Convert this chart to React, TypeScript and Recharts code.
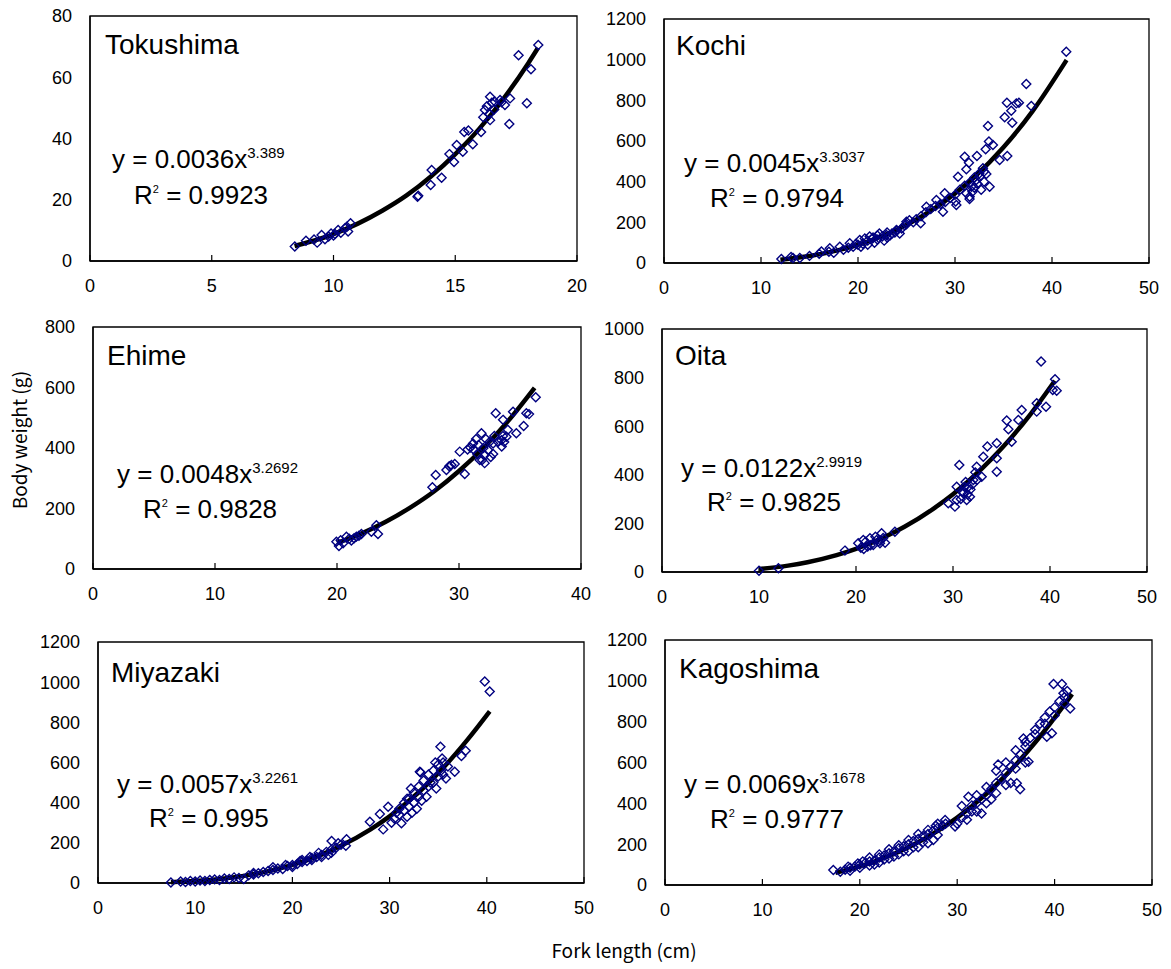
import React from 'react';
import { ComposedChart, Scatter, Line, XAxis, YAxis, ReferenceArea } from 'recharts';

// fork length (cm) / body weight (g) samples
const tokushimaPoints = [
  [8.41, 4.7], [8.87, 6.6], [9.33, 6.0], [9.51, 8.5], [9.65, 7.1], [9.2, 7.0], [9.8, 8.0], [9.9, 9.0],
  [10.0, 8.3], [10.06, 8.8], [10.19, 10.1], [10.3, 9.2], [10.47, 10.7], [10.6, 9.6], [10.7, 12.3], [10.55, 11.2],
  [13.45, 21.0], [13.48, 21.3], [13.99, 24.8], [14.03, 29.7], [14.44, 27.2], [14.76, 34.9], [14.95, 32.3],
  [15.06, 37.9], [15.31, 35.7], [15.37, 42.1], [15.54, 42.6], [15.72, 38.1], [16.06, 42.1], [16.15, 46.9],
  [16.22, 49.3], [16.3, 50.5], [16.4, 48.0], [16.43, 53.6], [16.43, 46.0], [16.5, 51.7], [16.6, 49.5],
  [16.63, 52.0], [16.84, 52.6], [16.9, 51.8], [17.04, 50.9], [17.25, 53.1], [17.22, 44.7], [17.6, 67.2],
  [17.94, 51.5], [18.11, 62.6], [18.41, 70.5],
];
const tokushimaTrend = [
  [8.4, 4.9], [9, 6.2], [10, 8.8], [11, 12.2], [12, 16.4], [13, 21.4], [14, 27.6], [15, 34.9], [16, 43.3],
  [17, 53.2], [18, 64.6], [18.4, 69.6],
];

const kochiPoints = [
  [12.1, 20], [13.1, 30], [13.3, 25], [14, 25], [15, 35], [16, 45], [16.23, 56], [17, 55], [17.09, 72],
  [17.5, 50], [18.12, 80], [18.5, 65], [19, 75], [19.15, 97], [19.5, 80], [19.8, 95], [20, 90], [20.18, 113],
  [20.3, 80], [20.5, 95], [20.7, 120], [21, 110], [21, 90], [21.2, 130], [21.5, 120], [21.55, 126], [21.7, 100],
  [22, 115], [22, 135], [22.2, 145], [22.5, 130], [22.7, 110], [22.93, 138], [23, 150], [23, 125], [23.3, 135],
  [23.5, 145], [23.8, 150], [23.96, 162], [24, 160], [24.3, 145], [24.5, 170], [24.8, 185], [24.99, 203],
  [25, 190], [25.3, 210], [25.7, 200], [26, 215], [26.46, 195], [26.5, 230], [27, 250], [27.05, 277],
  [27.5, 265], [28, 280], [28.08, 310], [28.5, 290], [28.76, 252], [28.94, 343], [29, 300], [29.5, 320],
  [30, 335], [30.07, 302], [30.14, 285], [30.31, 424], [30.5, 360], [31, 380], [31, 523], [31.17, 461],
  [31.17, 343], [31.44, 493], [31.5, 395], [31.5, 315], [31.51, 326], [31.69, 375], [31.8, 350], [32, 420],
  [32, 370], [32.2, 408], [32.26, 526], [32.3, 390], [32.5, 440], [32.54, 424], [32.7, 360], [32.88, 466],
  [33, 450], [33, 400], [33.16, 559], [33.23, 438], [33.4, 674], [33.5, 597], [33.57, 375], [33.91, 580],
  [34.6, 507], [35.12, 717], [35.35, 788], [35.39, 526], [35.8, 749], [35.9, 690], [36.32, 785], [36.59, 788],
  [37.35, 880], [37.87, 772], [41.47, 1039],
];
const kochiTrend = [
  [12, 16.5], [15, 34.6], [18, 63], [20, 89.5], [22, 123], [25, 187], [28, 272], [30, 342], [32, 423],
  [35, 569], [38, 747], [41.5, 998],
];

const ehimePoints = [
  [19.95, 90], [20.16, 76], [20.3, 95], [20.5, 85], [20.77, 107], [21, 100], [21.18, 94], [21.4, 102],
  [21.59, 107], [21.8, 110], [22, 116], [22.82, 123], [23.23, 145], [23.36, 116], [27.82, 270], [28.09, 311],
  [28.97, 327], [29.2, 340], [29.38, 344], [29.65, 347], [30.06, 388], [30.47, 314], [30.7, 395], [30.93, 402],
  [31.15, 415], [31.2, 395], [31.4, 430], [31.5, 380], [31.6, 410], [31.7, 360], [31.84, 449], [31.9, 360],
  [32, 400], [32.1, 350], [32.11, 377], [32.2, 430], [32.38, 393], [32.5, 420], [32.6, 370], [32.79, 415],
  [32.8, 380], [32.9, 440], [33.01, 515], [33.2, 420], [33.48, 426], [33.5, 405], [33.6, 440], [33.61, 493],
  [33.7, 420], [33.89, 437], [34, 460], [34.43, 520], [34.7, 449], [35.3, 473], [35.52, 515], [35.74, 512],
  [36.29, 568],
];
const ehimeTrend = [
  [20, 86], [22, 117], [24, 156], [26, 203], [28, 258], [30, 324], [32, 400], [34, 488], [36.2, 599],
];

const oitaPoints = [
  [10, 5], [12, 15], [18.86, 88], [20.23, 118], [20.5, 100], [20.75, 132], [20.8, 95], [21, 125],
  [21.2, 105], [21.44, 139], [21.5, 110], [21.78, 111], [22, 145], [22.13, 132], [22.3, 125], [22.47, 118],
  [22.5, 130], [22.64, 159], [22.8, 140], [23, 120], [24.01, 166], [29.51, 283], [30.2, 269], [30.38, 351],
  [30.38, 296], [30.65, 440], [30.8, 300], [31, 330], [31.06, 324], [31.2, 350], [31.3, 370], [31.41, 296],
  [31.5, 320], [31.58, 351], [31.75, 310], [31.8, 340], [32, 360], [32.09, 379], [32.3, 410], [32.44, 433],
  [32.5, 380], [32.96, 392], [33.12, 474], [33.54, 516], [34.51, 530], [34.51, 468], [34.51, 413],
  [35.54, 623], [35.71, 587], [36.05, 536], [36.74, 626], [37.08, 667], [38.63, 694], [38.63, 660],
  [39.08, 866], [39.59, 680], [40.28, 749], [40.52, 793], [40.69, 746],
];
const oitaTrend = [
  [10, 12], [13, 26.3], [15, 40.3], [18, 69.6], [20, 95.3], [23, 145], [25, 186], [28, 261], [30, 320],
  [33, 426], [35, 508], [38, 650], [40.5, 787],
];

const miyazakiPoints = [
  [7.5, 2], [8.5, 8], [9, 5], [9.5, 10], [10, 8], [10.5, 12], [11, 10], [11.5, 15], [12, 18], [12.5, 15],
  [13, 22], [13.5, 20], [14, 28], [14.5, 25], [15, 20], [15.5, 38], [16, 42], [16, 50], [16.5, 48], [17, 55],
  [17.5, 60], [18, 65], [18, 78], [18.5, 72], [19, 70], [19.3, 90], [19.5, 85], [20, 90], [20, 80], [20.5, 95],
  [20.8, 110], [21, 105], [21, 115], [21.5, 110], [21.8, 130], [22, 125], [22, 115], [22.5, 130], [22.7, 150],
  [23, 140], [23, 130], [23.5, 155], [23.7, 140], [24, 165], [24, 150], [24.03, 209], [24.5, 175], [24.71, 198],
  [25, 190], [25.5, 185], [25.57, 218], [27.97, 305], [29, 344], [29.34, 267], [29.85, 380], [30.2, 300],
  [30.5, 320], [30.7, 350], [31, 340], [31, 370], [31.22, 297], [31.5, 360], [31.5, 400], [31.8, 330],
  [31.8, 420], [32, 380], [32, 420], [32.2, 470], [32.3, 350], [32.5, 400], [32.5, 450], [32.8, 370], [33, 430],
  [33, 480], [33.11, 554], [33.2, 550], [33.3, 410], [33.5, 460], [33.5, 510], [33.8, 430], [34, 480],
  [34, 540], [34.2, 500], [34.5, 500], [34.5, 560], [34.7, 600], [34.8, 470], [35, 530], [35, 590],
  [35.23, 679], [35.3, 560], [35.4, 620], [35.5, 600], [35.5, 540], [35.8, 520], [36, 580], [36.7, 554],
  [37.39, 632], [37.83, 659], [39.79, 1003], [40.3, 953],
];
const miyazakiTrend = [
  [7.5, 3.8], [10, 9.6], [13, 22.4], [15, 35.5], [18, 63.9], [20, 89.8], [23, 141], [25, 185], [28, 266],
  [30, 332], [33, 452], [35, 547], [38, 713], [40.3, 855],
];

const kagoshimaPoints = [
  [17.28, 73], [18, 65], [18.5, 75], [18.8, 90], [19, 85], [19, 70], [19.5, 90], [19.8, 105], [20, 100],
  [20, 85], [20.3, 115], [20.5, 105], [21, 115], [21, 95], [21, 135], [21.5, 120], [21.5, 100], [22, 135],
  [22, 110], [22, 150], [22.5, 145], [22.5, 125], [23, 155], [23, 130], [23, 175], [23.5, 165], [23.5, 140],
  [24, 180], [24, 150], [24, 195], [24.5, 190], [24.5, 165], [25, 200], [25, 165], [25, 220], [25.5, 215],
  [25.5, 185], [26, 225], [26, 185], [26, 250], [26.5, 240], [26.5, 210], [27, 250], [27, 205], [27, 270],
  [27.5, 265], [27.55, 220], [27.8, 290], [28, 280], [28, 245], [28, 300], [28.5, 290], [28.76, 318],
  [28.8, 300], [29.78, 286], [30, 300], [30.47, 387], [30.5, 330], [31, 350], [31, 320], [31.15, 432],
  [31.5, 360], [31.5, 390], [32, 400], [32, 360], [32, 440], [32.5, 420], [32.5, 350], [33, 440], [33, 400],
  [33, 480], [33.5, 470], [33.5, 420], [34, 500], [34, 450], [34, 560], [34.2, 590], [34.5, 520], [35, 550],
  [35, 490], [35, 600], [35.5, 580], [35.5, 500], [36, 610], [36, 570], [36, 660], [36.12, 498], [36.46, 469],
  [36.5, 640], [36.8, 718], [37, 680], [37, 700], [37, 600], [37.32, 604], [37.5, 720], [38, 760], [38, 740],
  [38.5, 790], [39, 820], [39, 790], [39.2, 726], [39.5, 850], [39.72, 743], [39.89, 984], [40, 870],
  [40, 830], [40.5, 900], [40.75, 984], [40.91, 939], [41, 920], [41, 890], [41.3, 950], [41.6, 865],
];
const kagoshimaTrend = [
  [17.5, 60], [20, 91], [23, 142], [25, 185], [28, 265], [30, 330], [33, 446], [35, 538], [38, 698],
  [41.8, 935],
];

const ticks0to20 = [0, 5, 10, 15, 20];
const ticks0to40 = [0, 10, 20, 30, 40];
const ticks0to50 = [0, 10, 20, 30, 40, 50];
const weightTicks80 = [0, 20, 40, 60, 80];
const weightTicks800 = [0, 200, 400, 600, 800];
const weightTicks1000 = [0, 200, 400, 600, 800, 1000];
const weightTicks1200 = [0, 200, 400, 600, 800, 1000, 1200];

const toXY = (pairs: number[][]) => pairs.map(([x, y]) => ({ x, y }));

// plot-area boxes on the page, plus where the labels go
const panels = [
  {
    name: 'Tokushima', points: tokushimaPoints, trend: tokushimaTrend, xTicks: ticks0to20, yTicks: weightTicks80,
    coef: '0.0036', exp: '3.389', r2: '0.9923',
    box: { left: 90, top: 16, right: 577, bottom: 261 },
    title: [105, 54], eq: [112, 168], rsq: [134, 204],
  },
  {
    name: 'Kochi', points: kochiPoints, trend: kochiTrend, xTicks: ticks0to50, yTicks: weightTicks1200,
    coef: '0.0045', exp: '3.3037', r2: '0.9794',
    box: { left: 664, top: 19, right: 1149, bottom: 263 },
    title: [676, 55], eq: [684, 172], rsq: [710, 207],
  },
  {
    name: 'Ehime', points: ehimePoints, trend: ehimeTrend, xTicks: ticks0to40, yTicks: weightTicks800,
    coef: '0.0048', exp: '3.2692', r2: '0.9828',
    box: { left: 93, top: 327, right: 581, bottom: 569 },
    title: [107, 365], eq: [117, 483], rsq: [143, 518],
  },
  {
    name: 'Oita', points: oitaPoints, trend: oitaTrend, xTicks: ticks0to50, yTicks: weightTicks1000,
    coef: '0.0122', exp: '2.9919', r2: '0.9825',
    box: { left: 662, top: 329, right: 1147, bottom: 572 },
    title: [675, 365], eq: [681, 477], rsq: [707, 511],
  },
  {
    name: 'Miyazaki', points: miyazakiPoints, trend: miyazakiTrend, xTicks: ticks0to50, yTicks: weightTicks1200,
    coef: '0.0057', exp: '3.2261', r2: '0.995',
    box: { left: 98, top: 642, right: 584, bottom: 883 },
    title: [111, 682], eq: [117, 793], rsq: [149, 827],
  },
  {
    name: 'Kagoshima', points: kagoshimaPoints, trend: kagoshimaTrend, xTicks: ticks0to50, yTicks: weightTicks1200,
    coef: '0.0069', exp: '3.1678', r2: '0.9777',
    box: { left: 665, top: 640, right: 1152, bottom: 885 },
    title: [679, 678], eq: [684, 793], rsq: [710, 828],
  },
];

const Diamond = (props: any) => {
  const { cx, cy } = props;
  if (cx == null || cy == null) return null;
  const r = 4.5;
  return (
    <path
      d={`M${cx},${cy - r}L${cx + r},${cy}L${cx},${cy + r}L${cx - r},${cy}Z`}
      fill="none"
      stroke="#000080"
      strokeWidth={1.4}
    />
  );
};

const tickFont = { fill: '#000', fontSize: 18, fontFamily: 'Liberation Sans' };
const latin = 'Liberation Sans';
const PAD_TOP = 12;
const PAD_RIGHT = 20;
const Y_W = 60;
const X_H = 35;

const Panel = ({ p }: { p: (typeof panels)[number] }) => {
  const { box } = p;
  const xMax = p.xTicks[p.xTicks.length - 1];
  const yMax = p.yTicks[p.yTicks.length - 1];
  const width = box.right - box.left + Y_W + PAD_RIGHT;
  const height = box.bottom - box.top + PAD_TOP + X_H;
  return (
    <div style={{ position: 'absolute', left: box.left - Y_W, top: box.top - PAD_TOP }}>
      <ComposedChart width={width} height={height} margin={{ top: PAD_TOP, right: PAD_RIGHT, bottom: 0, left: 0 }}>
        <XAxis
          type="number"
          dataKey="x"
          domain={[0, xMax]}
          ticks={p.xTicks}
          interval={0}
          height={X_H}
          tick={tickFont}
          tickSize={-6}
          tickMargin={24}
          tickLine={{ stroke: '#000', strokeWidth: 1.2 }}
          axisLine={{ stroke: '#000', strokeWidth: 1.3 }}
        />
        <YAxis
          type="number"
          dataKey="y"
          domain={[0, yMax]}
          ticks={p.yTicks}
          interval={0}
          width={Y_W}
          tick={tickFont}
          tickSize={0}
          tickMargin={18}
          tickLine={false}
          axisLine={{ stroke: '#000', strokeWidth: 1.3 }}
        />
        <ReferenceArea x1={0} x2={xMax} y1={0} y2={yMax} fill="none" stroke="#000" strokeWidth={1.3} fillOpacity={0} />
        <Scatter data={toXY(p.points)} shape={Diamond} isAnimationActive={false} />
        <Line
          data={toXY(p.trend)}
          dataKey="y"
          type="monotone"
          stroke="#000"
          strokeWidth={4.5}
          dot={false}
          activeDot={false}
          isAnimationActive={false}
        />
      </ComposedChart>
    </div>
  );
};

export default function App() {
  return (
    <div style={{ position: 'absolute', left: 0, top: 0, width: 1171, height: 969, background: '#fff' }}>
      {panels.map((p) => (
        <Panel key={p.name} p={p} />
      ))}
      <svg
        width={1171}
        height={969}
        style={{ position: 'absolute', left: 0, top: 0, pointerEvents: 'none' }}
      >
        {panels.map((p) => (
          <g key={p.name} fill="#000" fontFamily={latin}>
            <text x={p.title[0]} y={p.title[1]} fontSize={28}>{p.name}</text>
            <text x={p.eq[0]} y={p.eq[1]} fontSize={26}>
              {`y = ${p.coef}x`}
              <tspan fontSize={15} dy={-10}>{p.exp}</tspan>
            </text>
            <text x={p.rsq[0]} y={p.rsq[1]} fontSize={26}>
              R
              <tspan fontSize={11} dy={-11}>2</tspan>
              <tspan dy={11}>{` = ${p.r2}`}</tspan>
            </text>
          </g>
        ))}
        <text
          x={27}
          y={440}
          fontSize={19}
          fontFamily="Noto Sans CJK JP"
          textAnchor="middle"
          transform="rotate(-90 27 440)"
        >
          Body weight (g)
        </text>
        <text x={624} y={958} fontSize={19} fontFamily="Noto Sans CJK JP" textAnchor="middle">
          Fork length (cm)
        </text>
      </svg>
    </div>
  );
}
